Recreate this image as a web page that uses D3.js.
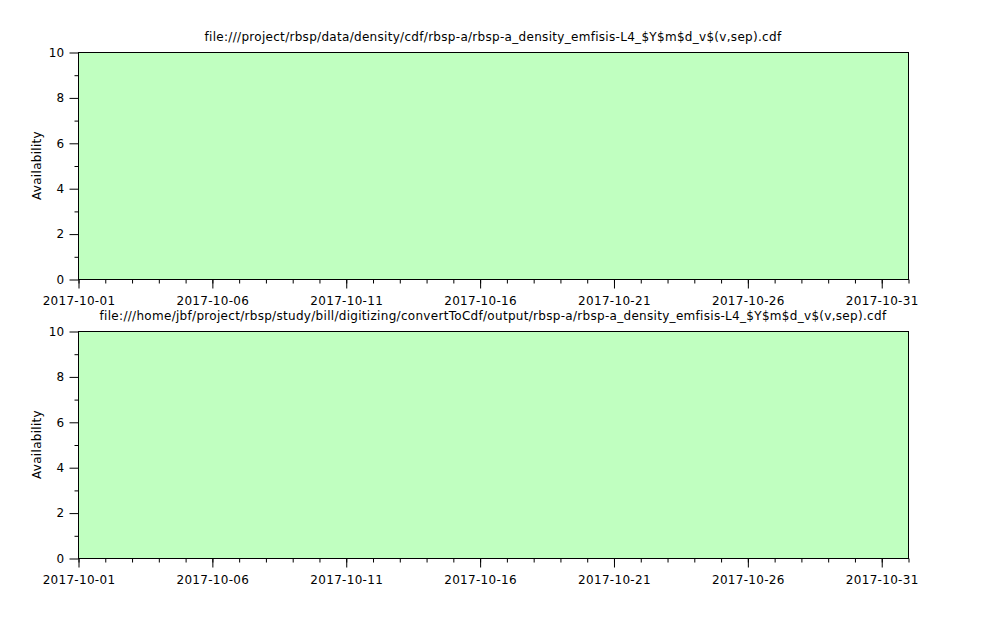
<!DOCTYPE html>
<html>
<head>
<meta charset="utf-8">
<script src="https://cdn.jsdelivr.net/npm/d3@7"></script>
<style>
  html, body { margin: 0; padding: 0; background: #fff; }
  svg { display: block; }
  text { font-family: "DejaVu Sans", sans-serif; font-size: 12px; fill: #000; letter-spacing: 0.3px; }
</style>
</head>
<body>
<svg id="chart" width="999" height="623"></svg>
<script>
// ---- data ----
const panelTitles = [
  "file:///project/rbsp/data/density/cdf/rbsp-a/rbsp-a_density_emfisis-L4_$Y$m$d_v$(v,sep).cdf",
  "file:///home/jbf/project/rbsp/study/bill/digitizing/convertToCdf/output/rbsp-a/rbsp-a_density_emfisis-L4_$Y$m$d_v$(v,sep).cdf"
];
const xDomain = ["2017-10-01", "2017-11-01"];
const xTickLabels = ["2017-10-01", "2017-10-06", "2017-10-11", "2017-10-16", "2017-10-21", "2017-10-26", "2017-10-31"];
const yDomain = [0, 10];
const yTickValues = [0, 2, 4, 6, 8, 10];
const yLabel = "Availability";
// availability intervals per panel: [start, end, level]
const availStart = ["2017-10-01", "2017-10-01"];
const availEnd = ["2017-11-01", "2017-11-01"];
const availLevel = [10, 10];

// ---- drawing ----
const parse = d3.utcParse("%Y-%m-%d");
const svg = d3.select("#chart");
const left = 78, right = 908;
const panels = [{top: 52, bottom: 279}, {top: 331, bottom: 558}];

panels.forEach((p, i) => {
  const x = d3.scaleUtc().domain(xDomain.map(parse)).range([left, right]);
  const y = d3.scaleLinear().domain(yDomain).range([p.bottom, p.top]);
  const g = svg.append("g");

  // availability fill
  g.append("rect")
    .attr("x", x(parse(availStart[i])))
    .attr("y", y(availLevel[i]))
    .attr("width", x(parse(availEnd[i])) - x(parse(availStart[i])))
    .attr("height", y(0) - y(availLevel[i]))
    .attr("fill", "#c0ffc0");

  // frame
  g.append("rect")
    .attr("x", left + 0.5).attr("y", p.top + 0.5)
    .attr("width", right - left).attr("height", p.bottom - p.top)
    .attr("fill", "none").attr("stroke", "#000").attr("stroke-width", 1);

  // x minor ticks (daily)
  const days = d3.utcDay.range(parse(xDomain[0]), d3.utcDay.offset(parse(xDomain[1]), 1));
  g.append("g").attr("transform", `translate(0.5,${p.bottom + 0.5})`)
    .call(d3.axisBottom(x).tickValues(days).tickSize(4).tickFormat(""))
    .call(s => s.select(".domain").remove());
  // x major ticks
  g.append("g").attr("transform", `translate(0.5,${p.bottom + 0.5})`)
    .call(d3.axisBottom(x).tickValues(xTickLabels.map(parse)).tickSize(9).tickPadding(8)
      .tickFormat(d3.utcFormat("%Y-%m-%d")))
    .call(s => s.select(".domain").remove())
    .call(s => s.selectAll("text").attr("font-size", 12).attr("font-family", "DejaVu Sans").attr("fill", "#000"));

  // y minor ticks
  g.append("g").attr("transform", `translate(${left + 0.5},0.5)`)
    .call(d3.axisLeft(y).tickValues(d3.range(1, 10, 2)).tickSize(4).tickFormat(""))
    .call(s => s.select(".domain").remove());
  // y major ticks
  g.append("g").attr("transform", `translate(${left + 0.5},0.5)`)
    .call(d3.axisLeft(y).tickValues(yTickValues).tickSize(9).tickPadding(5).tickFormat(d3.format("d")))
    .call(s => s.select(".domain").remove())
    .call(s => s.selectAll("text").attr("font-size", 12).attr("font-family", "DejaVu Sans").attr("fill", "#000"));

  // y label
  g.append("text")
    .attr("transform", `translate(41,${(p.top + p.bottom) / 2}) rotate(-90)`)
    .attr("text-anchor", "middle")
    .text(yLabel);

  // title
  g.append("text")
    .attr("x", (left + right) / 2)
    .attr("y", p.top - 11)
    .attr("text-anchor", "middle")
    .text(panelTitles[i]);
});
</script>
</body>
</html>
